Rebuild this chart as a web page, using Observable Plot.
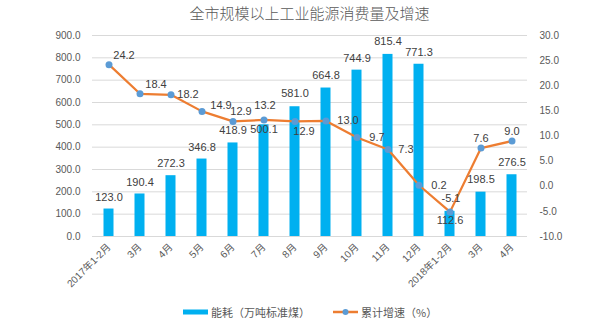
<!DOCTYPE html>
<html><head><meta charset="utf-8">
<script src="https://cdn.jsdelivr.net/npm/d3@7"></script>
<script src="https://cdn.jsdelivr.net/npm/@observablehq/plot@0.6"></script>
<style>
body{margin:0;background:#fff;font-family:"Liberation Sans","Noto Sans CJK SC",sans-serif;width:603px;overflow:hidden}
#title{height:24px;line-height:26px;text-align:center;font-size:15px;color:#595959;padding-left:16px;font-family:"Noto Sans CJK SC",sans-serif;font-weight:300}
#legend{position:relative;height:37px;width:603px;font-size:11px;color:#595959;font-family:"Noto Sans CJK SC",sans-serif}
#legend .sw{position:absolute}
#legend .tx{position:absolute;top:9px;line-height:16px;white-space:nowrap}
</style></head><body>
<div id="title">全市规模以上工业能源消费量及增速</div>
<div id="chart"></div>
<div id="legend">
  <svg class="sw" style="left:183px;top:14px" width="25" height="6"><rect x="0" y="0.5" width="25" height="5" fill="#00B0F0"/></svg>
  <span class="tx" style="left:211px">能耗（万吨标准煤）</span>
  <svg class="sw" style="left:333px;top:13px" width="25" height="8"><line x1="0" x2="25" y1="4" y2="4" stroke="#ED7D31" stroke-width="2.5"/><circle cx="12.5" cy="4" r="3" fill="#5B9BD5"/></svg>
  <span class="tx" style="left:361px">累计增速（%）</span>
</div>
<script>
const categories = ["2017年1-2月","3月","4月","5月","6月","7月","8月","9月","10月","11月","12月","2018年1-2月","3月","4月"];
const energy = [123.0,190.4,272.3,346.8,418.9,500.1,581.0,664.8,744.9,815.4,771.3,112.6,198.5,276.5];
const growth = [24.2,18.4,18.2,14.9,12.9,13.2,12.9,13.0,9.7,7.3,0.2,-5.1,7.6,9.0];
const leftTicks = [0,100,200,300,400,500,600,700,800,900];
const rightTicks = [-10,-5,0,5,10,15,20,25,30];

// label placement (offsets in px), kept apart from the data
const lineLabelOffsets = [[15,-9],[16,-9],[17,0],[19,-6],[8,-10],[1,-14],[9,10],[22,0],[20,0],[18,0],[20,0],[1,-13],[0,-10],[0,-10]];
const barLabelDy = [-12,-12,-12,-12,-12,5,-13,-13,-12,-13,-12,9,-13,-12];

const G0 = -10, G1 = 30, YMAX = 900;
const toY = g => (g - G0) * YMAX / (G1 - G0);
const fromY = y => y * (G1 - G0) / YMAX + G0;

const rows = categories.map((c, i) => ({i, label: c, energy: energy[i], growth: growth[i], gy: toY(growth[i])}));

const labelStyle = {fill: "#404040", fontSize: 11};
const barLabels = rows.map((r, k) => Plot.text([r], {x: "i", y: "energy", text: d => d.energy.toFixed(1), dy: barLabelDy[k], ...labelStyle}));
const lineLabels = rows.map((r, k) => Plot.text([r], {x: "i", y: "gy", text: d => d.growth.toFixed(1), dx: lineLabelOffsets[k][0], dy: lineLabelOffsets[k][1], ...labelStyle}));

const chart = Plot.plot({
  width: 603, height: 271,
  marginTop: 11, marginBottom: 59, marginLeft: 92, marginRight: 76,
  style: {color: "#595959", fontFamily: "'Liberation Sans','Noto Sans CJK SC',sans-serif", background: "#fff"},
  x: {type: "band", domain: d3.range(categories.length), padding: 0},
  y: {domain: [0, YMAX], label: null},
  marks: [
    Plot.ruleY(leftTicks, {stroke: "#d9d9d9", strokeWidth: 1}),
    Plot.barY(rows, {x: "i", y: "energy", fill: "#00B0F0", insetLeft: 10.5, insetRight: 10.5}),
    Plot.line(rows, {x: "i", y: "gy", stroke: "#ED7D31", strokeWidth: 2.25}),
    Plot.dot(rows, {x: "i", y: "gy", r: 3.5, fill: "#5B9BD5", stroke: "none"}),
    ...barLabels,
    ...lineLabels,
    Plot.axisY(leftTicks, {anchor: "left", tickSize: 0, tickPadding: 12, tickFormat: d => d.toFixed(1), fontSize: 10, label: null}),
    Plot.axisY(rightTicks.map(toY), {anchor: "right", tickSize: 0, tickPadding: 12, tickFormat: d => fromY(d).toFixed(1), fontSize: 10, label: null}),
    Plot.axisX({tickRotate: -45, tickSize: 0, tickPadding: 9, tickFormat: i => categories[i], fontSize: 10, label: null})
  ]
});
document.getElementById("chart").appendChild(chart);
</script>
</body></html>
